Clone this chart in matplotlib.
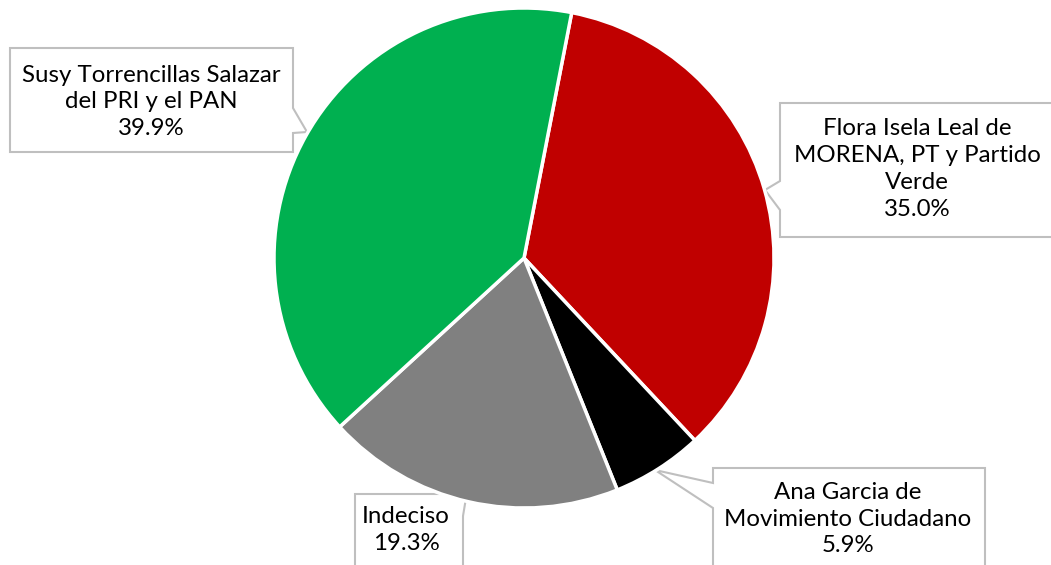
import matplotlib
matplotlib.use("Agg")
import matplotlib.pyplot as plt
from matplotlib.patches import Polygon

labels = ["Flora Isela Leal de\nMORENA, PT y Partido\nVerde",
          "Ana Garcia de\nMovimiento Ciudadano",
          "Indeciso",
          "Susy Torrencillas Salazar\ndel PRI y el PAN"]
values = [35.0, 5.9, 19.3, 39.9]
colors = ["#C00000", "#000000", "#808080", "#00B050"]

W, H = 1051, 565
fig = plt.figure(figsize=(W / 100, H / 100), dpi=100)
ax = fig.add_axes([0, 0, 1, 1])

ax.pie(values, colors=colors, startangle=79, counterclock=False,
       center=(524, H - 258), radius=250, frame=True,
       wedgeprops=dict(edgecolor="white", linewidth=2.5, zorder=2))
ax.set_xlim(0, W)
ax.set_ylim(0, H)
ax.set_aspect("equal")
ax.axis("off")

def px(pts):
    return [(x, H - y) for x, y in pts]

# callout shapes (pixel coords, top-left origin)
callouts = [
    # Flora
    dict(poly=[(780, 103), (1060, 103), (1060, 237), (780, 237), (780, 210),
               (765, 190), (780, 181)], tx=917, ty=169),
    # Ana
    dict(poly=[(713, 468), (985, 468), (985, 575), (713, 575), (713, 508),
               (655, 470), (713, 483)], tx=848, ty=519),
    # Indeciso
    dict(poly=[(355, 494), (463, 494), (463, 497), (468, 486), (463, 516),
               (463, 575), (355, 575)], tx=406, ty=530),
    # Susy
    dict(poly=[(10, 48), (293, 48), (293, 108), (307, 132), (293, 133),
               (293, 152), (10, 152)], tx=151, ty=102),
]

for i, c in enumerate(callouts):
    ax.add_patch(Polygon(px(c["poly"]), closed=True, facecolor="white",
                         edgecolor="#BFBFBF", linewidth=1.5, zorder=1))
    ax.text(c["tx"], H - c["ty"], f"{labels[i]}\n{values[i]:.1f}%",
            ha="center", va="center", fontsize=17.3, family="Lato",
            linespacing=1.35, color="black", zorder=6)

fig.savefig("out.png", dpi=100)
